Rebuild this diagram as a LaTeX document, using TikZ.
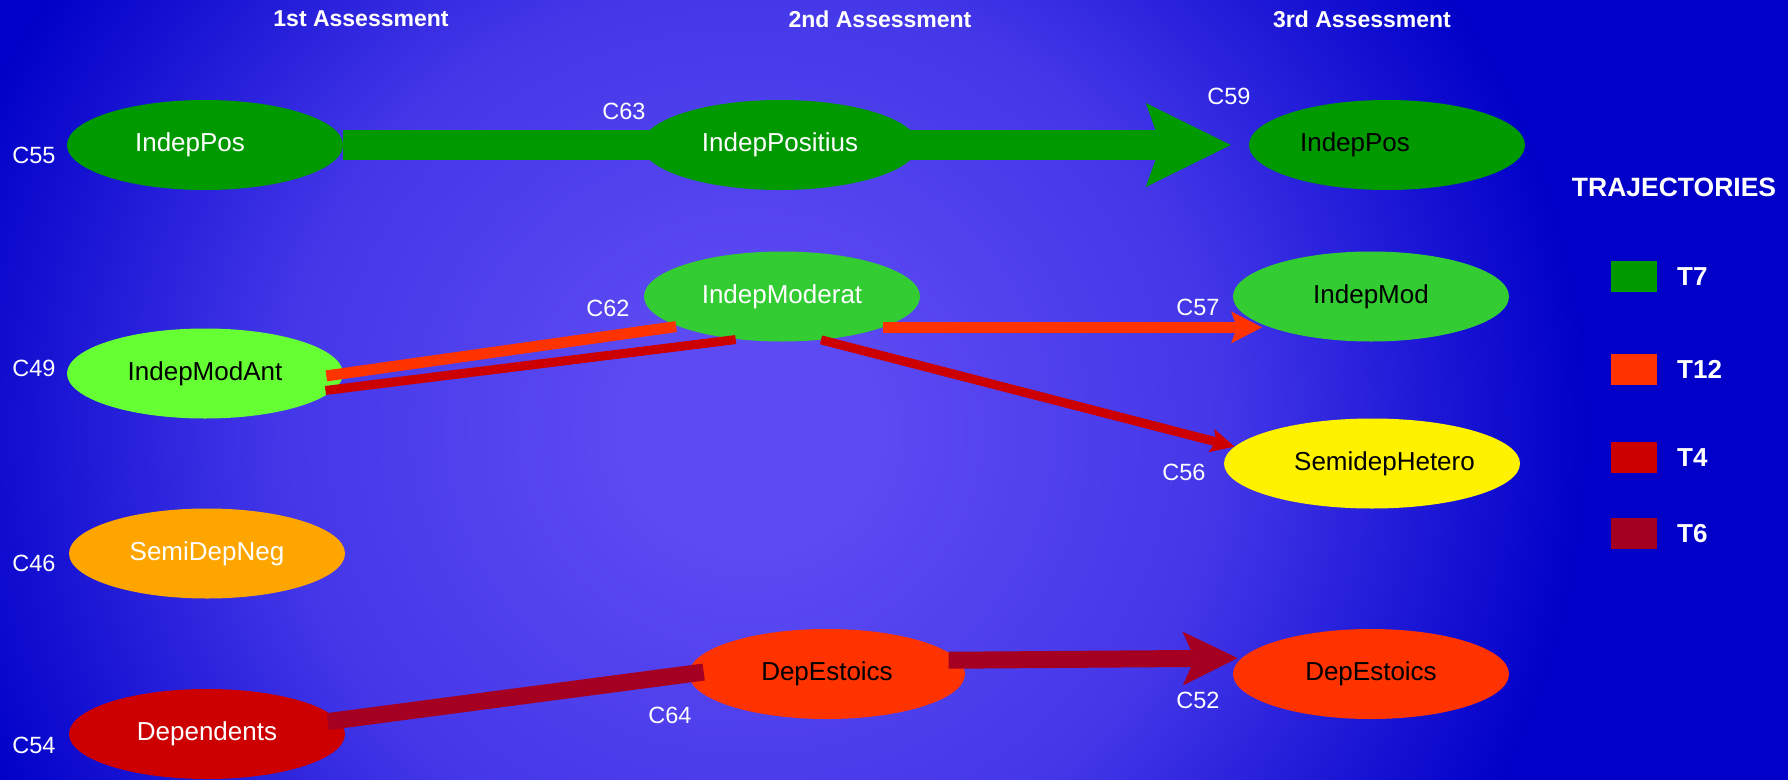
\documentclass[tikz,border=0pt]{standalone}
\usepackage{fontspec}
\setmainfont{Liberation Sans}
\usetikzlibrary{arrows.meta,shapes.geometric}
\definecolor{bgIn}{RGB}{92,74,242}
\definecolor{bgMid}{RGB}{68,55,232}
\definecolor{bgOut}{RGB}{0,0,200}
\definecolor{trGreen}{RGB}{0,153,0}
\definecolor{trOrange}{RGB}{255,51,0}
\definecolor{trRed}{RGB}{204,0,0}
\definecolor{trWine}{RGB}{165,0,33}
\definecolor{stLime}{RGB}{51,204,51}
\definecolor{stLight}{RGB}{102,255,51}
\definecolor{stAmber}{RGB}{255,165,0}
\pgfdeclareradialshading{bgglow}{\pgfpoint{0bp}{0bp}}{color(0bp)=(bgIn); color(3bp)=(bgIn); color(11bp)=(bgMid); color(19.6bp)=(bgOut); color(25bp)=(bgOut); color(50bp)=(bgOut)}

\begin{document}
\begin{tikzpicture}[x=1pt,y=-1pt,
    state/.style={ellipse,inner sep=0pt,minimum width=276pt,minimum height=90pt,
      font=\fontsize{26}{30}\selectfont},
    tag/.style={text=white,font=\fontsize{23.5}{28}\selectfont},
    head/.style={text=white,font=\fontsize{23}{28}\selectfont\bfseries},
    key/.style={minimum width=46pt,minimum height=31pt,inner sep=0pt},
    keytxt/.style={anchor=west,inner sep=0pt,text=white,font=\fontsize{26}{30}\selectfont\bfseries},
    t7/.style={draw=trGreen,line width=30pt,-{Stealth[length=85pt,width=84pt,inset=15pt,line width=0pt]}},
    t12/.style={draw=trOrange,line width=11pt},
    t4/.style={draw=trRed,line width=9pt},
    t6/.style={draw=trWine,line width=17pt},
    tip12/.style={-{Stealth[length=31pt,width=32pt,inset=6pt,line width=0pt]}},
    tip4/.style={-{Stealth[length=24pt,width=24pt,inset=5pt,line width=0pt]}},
    tip6/.style={-{Stealth[length=55pt,width=54pt,inset=12pt,line width=0pt]}}
  ]
  \useasboundingbox (0,0) rectangle (1788,779);
  % backdrop
  \begin{scope}
    \clip (0,0) rectangle (1788,779);
    \shade[shading=bgglow] (-320,-589) rectangle (1820,1449);
  \end{scope}

  \node[head] (h1) at (361,19)  {1st Assessment};
  \node[head] (h2) at (880,19)  {2nd Assessment};
  \node[head] (h3) at (1362,19) {3rd Assessment};

  % T7 runs under the middle state, so that one comes after it
  \node[state,fill=trGreen,text=white] (ipL) at (205,145)  {IndepPos\hspace*{30pt}};
  \node[state,fill=trGreen]            (ipR) at (1387,145) {IndepPos\hspace*{64pt}};
  \draw[t7,shorten >=18pt] (ipL.east) -- (ipR.west);
  \node[state,fill=trGreen,text=white] (ipM) at (780,145)  {IndepPositius};

  \node[state,fill=stLime,text=white] (imr)  at (782,296.5)  {IndepModerat};
  \node[state,fill=stLime]            (imod) at (1371,296.5) {IndepMod};
  \node[state,fill=stLight]           (ima)  at (205,373.5)  {IndepModAnt};
  \node[state,fill=yellow,minimum width=296pt] (shet) at (1372,463.5) {\hspace*{25pt}SemidepHetero};
  \node[state,fill=stAmber,text=white] (sdn) at (207,553.5) {SemiDepNeg};
  \node[state,fill=trOrange]           (dem) at (827,674)   {DepEstoics};
  \node[state,fill=trOrange]           (der) at (1371,674)  {DepEstoics};
  \node[state,fill=trRed,text=white]   (dep) at (207,734)   {Dependents};

  \node[tag] (c55) at (34,155)    {C55};
  \node[tag] (c63) at (624,111)   {C63};
  \node[tag] (c59) at (1229,96)   {C59};
  \node[tag] (c49) at (34,368)    {C49};
  \node[tag] (c62) at (608,308)   {C62};
  \node[tag] (c57) at (1198,307)  {C57};
  \node[tag] (c56) at (1184,472)  {C56};
  \node[tag] (c46) at (34,563)    {C46};
  \node[tag] (c64) at (670,715)   {C64};
  \node[tag] (c52) at (1198,700)  {C52};
  \node[tag] (c54) at (34,745)    {C54};

  \draw[t12,shorten <=-17pt,shorten >=2pt] (ima.east) -- (imr.-164);
  \draw[t4,shorten <=-9pt,shorten >=2pt] (ima.-7) -- (imr.-136);
  \draw[t12,tip12,shorten >=8pt] (imr.-17) -- (imod.-163);
  \draw[t4,tip4] (imr.-48) -- (shet.173);
  \draw[t6,shorten <=-11pt,shorten >=-15pt] (dep.6.5) -- (dem.west);
  \draw[t6,tip6,shorten <=-10pt,shorten >=4pt] (dem.6.5) -- (der.173.5);

  % legend
  \node[text=white,font=\fontsize{26.5}{30}\selectfont\bfseries] (ttl) at (1674,187) {TRAJECTORIES};
  \node[key,fill=trGreen]  (k7)  at (1634,276.5) {};
  \node[key,fill=trOrange] (k12) at (1634,369.5) {};
  \node[key,fill=trRed]    (k4)  at (1634,457.5) {};
  \node[key,fill=trWine]   (k6)  at (1634,533.5) {};
  \node[keytxt] at (1677,276.5) {T7};
  \node[keytxt] at (1677,369.5) {T12};
  \node[keytxt] at (1677,457.5) {T4};
  \node[keytxt] at (1677,533.5) {T6};
\end{tikzpicture}
\end{document}
